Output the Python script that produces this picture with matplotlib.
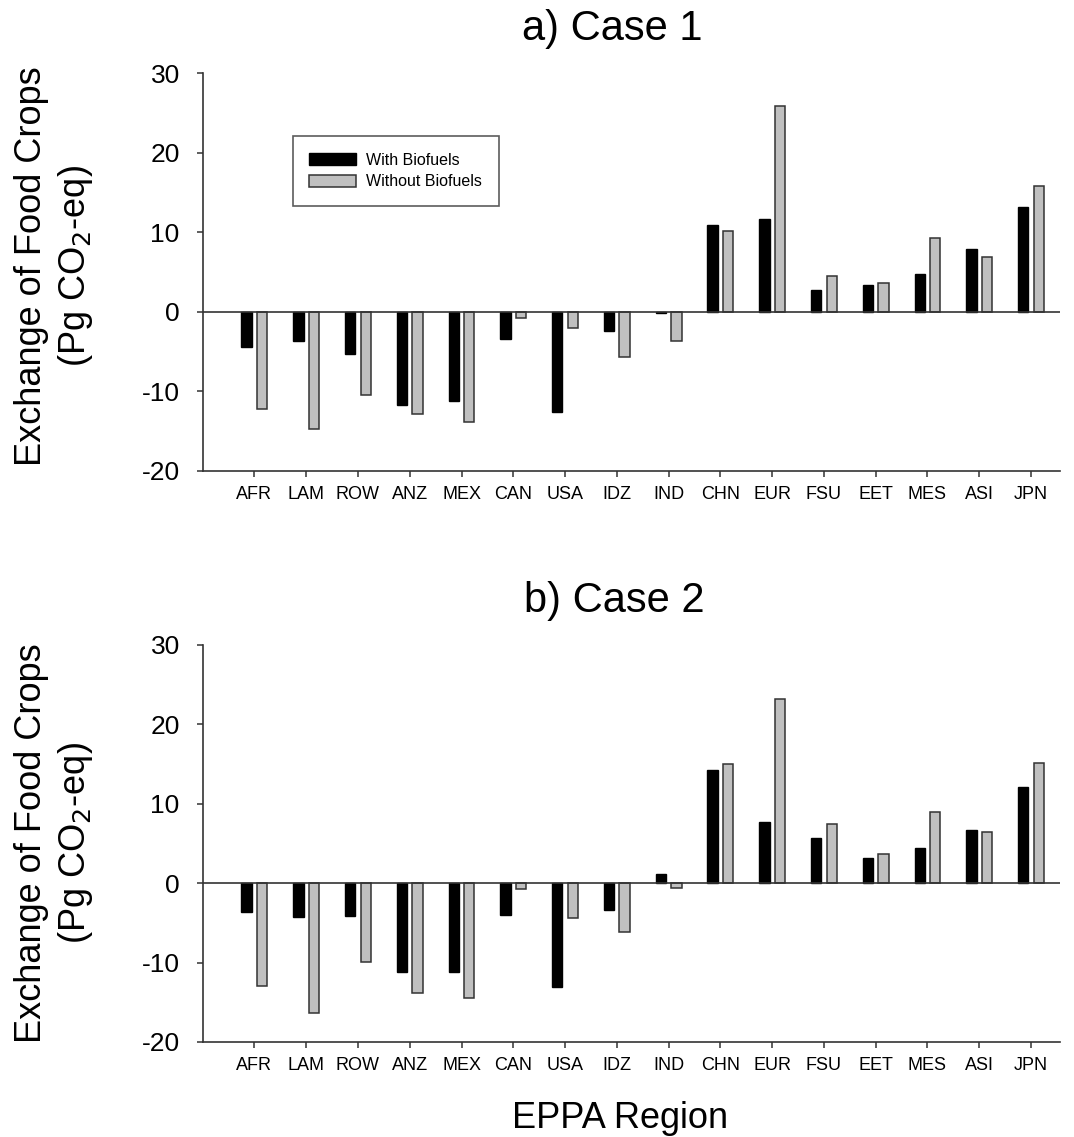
import matplotlib
matplotlib.use("Agg")
import matplotlib.pyplot as plt
import numpy as np

plt.rcParams['font.family'] = ['Liberation Sans', 'DejaVu Sans']
plt.rcParams['axes.unicode_minus'] = False

regions = ['AFR', 'LAM', 'ROW', 'ANZ', 'MEX', 'CAN', 'USA', 'IDZ', 'IND',
           'CHN', 'EUR', 'FSU', 'EET', 'MES', 'ASI', 'JPN']

# Case 1 exchange (Pg CO2-eq)
case1_with = [-4.4, -3.7, -5.3, -11.7, -11.2, -3.4, -12.6, -2.4, -0.2,
              10.9, 11.7, 2.8, 3.4, 4.8, 7.9, 13.2]
case1_without = [-12.2, -14.7, -10.5, -12.9, -13.9, -0.8, -2.0, -5.7, -3.7,
                 10.2, 25.9, 4.5, 3.6, 9.3, 6.9, 15.8]

# Case 2 exchange (Pg CO2-eq)
case2_with = [-3.7, -4.3, -4.2, -11.2, -11.2, -4.0, -13.1, -3.4, 1.1,
              14.2, 7.7, 5.7, 3.2, 4.4, 6.7, 12.1]
case2_without = [-13.0, -16.4, -9.9, -13.9, -14.5, -0.8, -4.4, -6.2, -0.6,
                 15.0, 23.2, 7.4, 3.6, 9.0, 6.4, 15.1]

spine_col = '#333333'
gray = '#c0c0c0'


def draw_panel(ax, with_vals, without_vals, show_legend=False):
    x = np.arange(len(regions))
    w = 0.2
    ax.bar(x - 0.15, with_vals, w, color='black', edgecolor='black',
           linewidth=1.0, label='With Biofuels', zorder=3)
    ax.bar(x + 0.15, without_vals, w, color=gray, edgecolor=spine_col,
           linewidth=1.1, label='Without Biofuels', zorder=3)
    ax.axhline(0, color=spine_col, linewidth=1.2, zorder=4)

    ax.set_xlim(-1.0, len(regions) - 0.44)
    ax.set_ylim(-20, 30)
    ax.set_yticks([-20, -10, 0, 10, 20, 30])
    ax.set_xticks(x)
    ax.set_xticklabels(regions, fontsize=13)
    ax.tick_params(axis='y', labelsize=19, length=4.5, width=1.1,
                   color=spine_col, pad=12)
    ax.tick_params(axis='x', length=4, width=1.1, color=spine_col, pad=7)

    for side in ['top', 'right']:
        ax.spines[side].set_visible(False)
    for side in ['left', 'bottom']:
        ax.spines[side].set_color(spine_col)
        ax.spines[side].set_linewidth(1.2)

    if show_legend:
        leg = ax.legend(loc='upper left', bbox_to_anchor=(0.105, 0.842),
                        borderaxespad=0, fontsize=11.5, fancybox=False,
                        frameon=True, borderpad=1.05, labelspacing=0.4,
                        handlelength=2.9, handleheight=0.8,
                        handletextpad=0.65)
        leg.get_frame().set_edgecolor(spine_col)
        leg.get_frame().set_linewidth(1.2)


fig = plt.figure(figsize=(10.74, 11.37), dpi=100)
ax1 = fig.add_axes([0.1887, 0.5858, 0.7983, 0.3498])
ax2 = fig.add_axes([0.1887, 0.0836, 0.7983, 0.3493])

draw_panel(ax1, case1_with, case1_without, show_legend=True)
draw_panel(ax2, case2_with, case2_without)

fig.text(0.570, 0.9648, 'a) Case 1', fontsize=30, ha='center', va='baseline')
fig.text(0.572, 0.4617, 'b) Case 2', fontsize=30, ha='center', va='baseline')
fig.text(0.577, 0.0079, 'EPPA Region', fontsize=26, ha='center', va='baseline')

ylab = 'Exchange of Food Crops\n(Pg CO$_2$-eq)'
fig.text(0.051, 0.766, ylab, fontsize=26, rotation=90, ha='center',
         va='center', multialignment='center', linespacing=1.25)
fig.text(0.051, 0.2586, ylab, fontsize=26, rotation=90, ha='center',
         va='center', multialignment='center', linespacing=1.25)

fig.savefig('out.png', dpi=100)
